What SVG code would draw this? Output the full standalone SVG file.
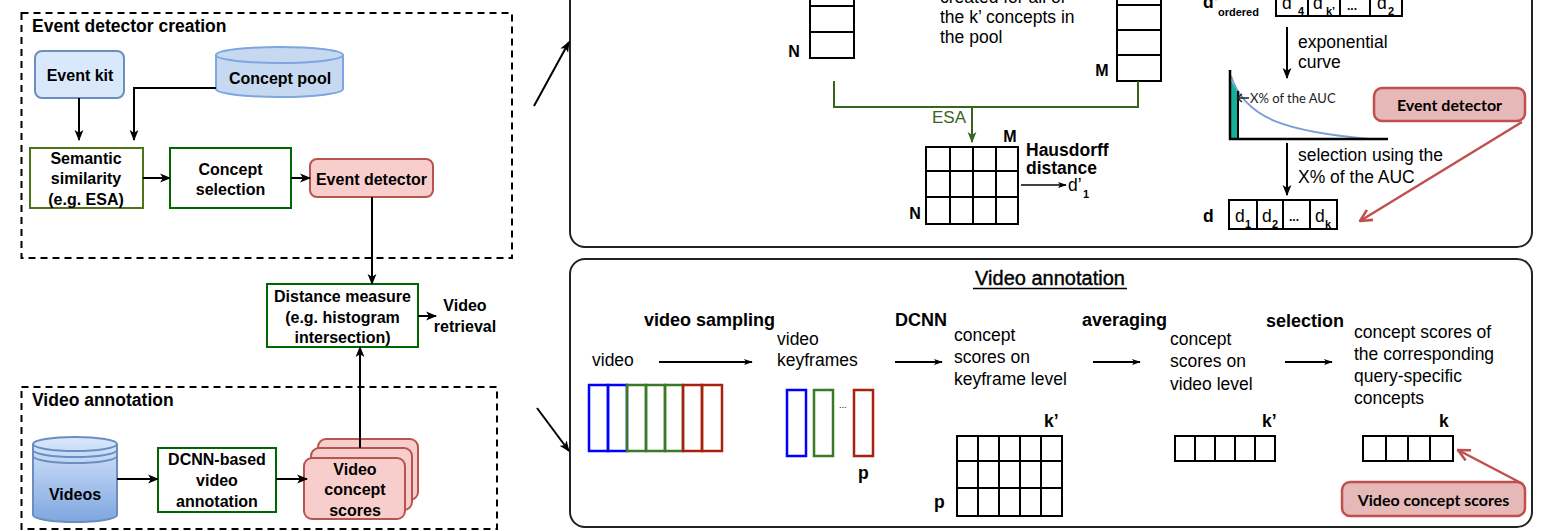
<svg xmlns="http://www.w3.org/2000/svg" width="1544" height="531" viewBox="0 0 1544 531">
<defs>
<style>
.b{font-family:"Liberation Sans",Arial,sans-serif;font-weight:bold;font-size:16px;fill:#000}
.t{font-family:"Liberation Sans",Arial,sans-serif;font-size:17.5px;fill:#000}
.tb{font-family:"Liberation Sans",Arial,sans-serif;font-weight:bold;font-size:17.5px;fill:#000}
.sub{font-family:"Liberation Sans",Arial,sans-serif;font-weight:bold;font-size:11px;fill:#000}
.c{text-anchor:middle}
.cal{font-family:Lato,"Open Sans",sans-serif;font-weight:bold;font-size:16px;fill:#000;text-anchor:middle}
.dash{fill:none;stroke:#000;stroke-width:2;stroke-dasharray:7 5}
.panel{fill:#fff;stroke:#222;stroke-width:2}
.grid{fill:#fff;stroke:#000;stroke-width:2}
.ln{fill:none;stroke:#000;stroke-width:2}
.ar{fill:none;stroke:#000;stroke-width:2;marker-end:url(#a)}
.ars{fill:none;stroke:#000;stroke-width:2;marker-end:url(#as)}
.red{fill:none;stroke:#c0504d;stroke-width:2.5;marker-end:url(#ao)}
.callout{fill:#e6b9b8;stroke:#c0504d;stroke-width:2.5}
</style>
<marker id="a" viewBox="0 0 10 10" refX="9" refY="5" markerWidth="11" markerHeight="11" markerUnits="userSpaceOnUse" orient="auto"><path d="M0,1 L10,5 L0,9 L2.5,5 Z" fill="#000"/></marker>
<marker id="as" viewBox="0 0 10 10" refX="9" refY="5" markerWidth="9" markerHeight="9" markerUnits="userSpaceOnUse" orient="auto"><path d="M0,1.5 L10,5 L0,8.5 L2.5,5 Z" fill="#000"/></marker>
<marker id="ag" viewBox="0 0 10 10" refX="9" refY="5" markerWidth="11" markerHeight="11" markerUnits="userSpaceOnUse" orient="auto"><path d="M0,1 L10,5 L0,9 L2.5,5 Z" fill="#38641d"/></marker>
<marker id="ao" viewBox="0 0 12 12" refX="11" refY="6" markerWidth="14" markerHeight="14" markerUnits="userSpaceOnUse" orient="auto"><path d="M1,1 L11,6 L1,11" fill="none" stroke="#c0504d" stroke-width="2.2"/></marker>
<linearGradient id="vg" x1="0" y1="0" x2="0" y2="1"><stop offset="0" stop-color="#dae8fc"/><stop offset="1" stop-color="#7ea6e0"/></linearGradient>
</defs>
<rect width="1544" height="531" fill="#fff"/>

<!-- Left: event detector creation -->
<g id="event-detector-creation">
<rect class="dash" x="21.5" y="13" width="490.5" height="245"/>
<text class="b" x="32" y="32" style="font-size:17.5px">Event detector creation</text>
</g>
<g id="event-kit">
<rect x="35" y="51" width="89" height="47" rx="7" fill="#dae8fc" stroke="#6c8ebf" stroke-width="2"/>
<text class="b c" x="80" y="81">Event kit</text>
</g>
<g id="concept-pool">
<path d="M216,55 A63.5,8 0 0 1 343,55 L343,89 A63.5,8 0 0 1 216,89 Z" fill="#c6d9f0" stroke="#7ea6e0" stroke-width="2"/>
<path d="M216,55 A63.5,8 0 0 0 343,55" fill="none" stroke="#7ea6e0" stroke-width="2"/>
<text class="b c" x="280" y="84">Concept pool</text>
</g>
<g id="semantic-similarity">
<rect x="30" y="148" width="113" height="60" fill="#fff" stroke="#4d7317" stroke-width="2"/>
<text class="b c" x="86" y="164">Semantic</text>
<text class="b c" x="86" y="184">similarity</text>
<text class="b c" x="86" y="205">(e.g. ESA)</text>
</g>
<g id="concept-selection">
<rect x="170" y="148" width="121" height="60" fill="#fff" stroke="#006600" stroke-width="2"/>
<text class="b c" x="230.5" y="175">Concept</text>
<text class="b c" x="230.5" y="195">selection</text>
</g>
<g id="event-detector">
<rect x="310" y="159" width="123" height="38" rx="7" fill="#f8cecc" stroke="#b85450" stroke-width="2"/>
<text class="b c" x="371.5" y="185">Event detector</text>
</g>
<g id="distance-measure">
<rect x="267" y="284" width="151" height="63" fill="#fff" stroke="#006600" stroke-width="2"/>
<text class="b c" x="342.5" y="302">Distance measure</text>
<text class="b c" x="342.5" y="323">(e.g. histogram</text>
<text class="b c" x="342.5" y="343">intersection)</text>
</g>
<g id="video-retrieval">
<text class="b c" x="465" y="311">Video</text>
<text class="b c" x="465" y="332">retrieval</text>
</g>

<!-- Left: video annotation -->
<g id="video-annotation-left">
<rect class="dash" x="21.5" y="387" width="475.5" height="142"/>
<text class="b" x="32" y="406" style="font-size:17.5px">Video annotation</text>
</g>
<g id="videos">
<path d="M33,444 A42,7 0 0 1 117,444 L117,515 A42,7 0 0 1 33,515 Z" fill="url(#vg)" stroke="#6c8ebf" stroke-width="2"/>
<path d="M33,444 A42,7 0 0 0 117,444 M33,450 A42,7 0 0 0 117,450 M33,456 A42,7 0 0 0 117,456" fill="none" stroke="#6c8ebf" stroke-width="2"/>
<text class="b c" x="75" y="500">Videos</text>
</g>
<g id="dcnn-annotation">
<rect x="158" y="448" width="118" height="64" fill="#fff" stroke="#006600" stroke-width="2"/>
<text class="b c" x="217" y="465">DCNN-based</text>
<text class="b c" x="217" y="486">video</text>
<text class="b c" x="217" y="507">annotation</text>
</g>
<g id="video-concept-scores">
<rect x="318" y="439" width="100" height="61" rx="8" fill="#f8cecc" stroke="#b85450" stroke-width="2"/>
<rect x="311" y="448" width="101" height="62" rx="8" fill="#f8cecc" stroke="#b85450" stroke-width="2"/>
<rect x="304" y="458" width="101" height="61" rx="8" fill="#f8cecc" stroke="#b85450" stroke-width="2"/>
<text class="b c" x="355" y="475">Video</text>
<text class="b c" x="355" y="495">concept</text>
<text class="b c" x="355" y="516">scores</text>
</g>

<!-- Right top panel -->
<g id="top-panel">
<rect class="panel" x="570" y="-30" width="962" height="277" rx="15"/>
</g>
<g id="n-vector">
<rect class="grid" x="810" y="-20" width="44" height="78"/>
<path class="ln" d="M810,6 H854 M810,32 H854"/>
<text class="tb c" x="794" y="57" style="font-size:16px">N</text>
</g>
<g id="pool-text">
<text class="t" x="940" y="3">created for all of</text>
<text class="t" x="940" y="23">the k’ concepts in</text>
<text class="t" x="940" y="43">the pool</text>
</g>
<g id="m-vector">
<rect class="grid" x="1117" y="-20" width="44" height="101"/>
<path class="ln" d="M1117,5 H1161 M1117,30 H1161 M1117,55 H1161"/>
<text class="tb c" x="1102" y="76" style="font-size:16px">M</text>
</g>
<g id="hausdorff-matrix">
<rect class="grid" x="926" y="147" width="92" height="77"/>
<path class="ln" d="M950,147 V224 M973,147 V224 M996,147 V224 M926,171 H1018 M926,197 H1018"/>
<text class="tb c" x="1010" y="142" style="font-size:16px">M</text>
<text class="tb c" x="915" y="219" style="font-size:16px">N</text>
<text class="tb" x="1026" y="156">Hausdorff</text>
<text class="tb" x="1026" y="174">distance</text>
<text class="t" x="1068" y="191">d’</text>
<text class="sub" x="1083" y="198">1</text>
</g>
<g id="d-ordered">
<text class="tb" x="1203" y="8">d’</text>
<text class="sub" x="1218" y="16">ordered</text>
<rect class="grid" x="1276" y="-13" width="126" height="29"/>
<path class="ln" d="M1308,-13 V16 M1340,-13 V16 M1370,-13 V16"/>
<text class="t" x="1282" y="9">d</text><text class="sub" x="1298" y="15">4</text>
<text class="t" x="1313" y="9">d</text><text class="sub" x="1326" y="15">k’</text>
<text class="tb" x="1347" y="10" style="font-size:12px">...</text>
<text class="t" x="1377" y="9">d</text><text class="sub" x="1388" y="15">2</text>
</g>
<g id="exponential-label">
<text class="t" x="1298" y="48">exponential</text>
<text class="t" x="1298" y="68">curve</text>
</g>
<g id="auc-chart">
<path d="M1230,139 L1230,78 L1233,84 L1236,88 L1238,91 L1238,139 Z" fill="#14b09a"/>
<path d="M1231,76 C1245,120 1290,132 1370,139" fill="none" stroke="#7b9fd4" stroke-width="2"/>
<path class="ln" d="M1238,91 V139"/>
<path d="M1230,70 V139 H1388" fill="none" stroke="#000" stroke-width="2.5"/>
<path d="M1249,98 H1238 M1242,94 L1237.5,98 L1242,102" fill="none" stroke="#222" stroke-width="1.5"/>
<text x="1250" y="103" style="font-family:Lato,'Open Sans',sans-serif;font-size:13px;fill:#222">X% of the AUC</text>
</g>
<g id="selection-label">
<text class="t" x="1298" y="161">selection using the</text>
<text class="t" x="1298" y="183">X% of the AUC</text>
</g>
<g id="d-vector">
<text class="tb" x="1203" y="222">d</text>
<rect class="grid" x="1229" y="200" width="108" height="29"/>
<path class="ln" d="M1257,200 V229 M1283,200 V229 M1310,200 V229"/>
<text class="t" x="1235" y="222">d</text><text class="sub" x="1245" y="228">1</text>
<text class="t" x="1262" y="222">d</text><text class="sub" x="1272" y="228">2</text>
<text class="tb" x="1289" y="221" style="font-size:12px">...</text>
<text class="t" x="1315" y="222">d</text><text class="sub" x="1325" y="228">k</text>
</g>
<g id="event-detector-callout">
<rect class="callout" x="1374" y="88" width="151" height="33" rx="8"/>
<text class="cal" x="1449.5" y="111">Event detector</text>
</g>

<!-- Right bottom panel -->
<g id="bottom-panel">
<rect class="panel" x="570" y="259" width="962" height="268" rx="15"/>
<text class="t c" x="1050" y="285" style="font-size:20px;stroke:#000;stroke-width:0.4">Video annotation</text>
<path d="M973,288.5 H1127" stroke="#000" stroke-width="1.5"/>
</g>
<g id="video-frames">
<text class="tb" x="644" y="326" style="font-size:18px">video sampling</text>
<text class="t" x="592" y="366">video</text>
<rect x="589" y="385" width="19" height="66" fill="none" stroke="#0000ff" stroke-width="2.5"/>
<rect x="608" y="385" width="19" height="66" fill="none" stroke="#0000ff" stroke-width="2.5"/>
<rect x="627" y="385" width="19" height="66" fill="none" stroke="#3a7a26" stroke-width="2.5"/>
<rect x="646" y="385" width="19" height="66" fill="none" stroke="#3a7a26" stroke-width="2.5"/>
<rect x="665" y="385" width="18" height="66" fill="none" stroke="#3a7a26" stroke-width="2.5"/>
<rect x="683" y="385" width="19" height="66" fill="none" stroke="#a8200e" stroke-width="2.5"/>
<rect x="702" y="385" width="20" height="66" fill="none" stroke="#a8200e" stroke-width="2.5"/>
</g>
<g id="keyframes">
<text class="t" x="777" y="345">video</text>
<text class="t" x="777" y="366">keyframes</text>
<rect x="787" y="390" width="19" height="66" fill="none" stroke="#0000ff" stroke-width="2.5"/>
<rect x="814" y="390" width="19" height="66" fill="none" stroke="#3a7a26" stroke-width="2.5"/>
<text class="t" x="839" y="408" style="font-size:9px">...</text>
<rect x="854" y="390" width="19" height="66" fill="none" stroke="#a8200e" stroke-width="2.5"/>
<text class="tb" x="858" y="479">p</text>
</g>
<g id="keyframe-scores">
<text class="tb" x="895" y="326" style="font-size:18px">DCNN</text>
<text class="t" x="954" y="341">concept</text>
<text class="t" x="954" y="363">scores on</text>
<text class="t" x="954" y="385">keyframe level</text>
<text class="tb" x="1044" y="427">k’</text>
<rect class="grid" x="957" y="436" width="105" height="80"/>
<path class="ln" d="M978,436 V516 M999,436 V516 M1020,436 V516 M1041,436 V516 M957,461 H1062 M957,488 H1062"/>
<text class="tb" x="934" y="508">p</text>
</g>
<g id="video-level-scores">
<text class="tb" x="1082" y="326" style="font-size:18px">averaging</text>
<text class="t" x="1170" y="345">concept</text>
<text class="t" x="1170" y="367">scores on</text>
<text class="t" x="1170" y="390">video level</text>
<text class="tb" x="1262" y="427">k’</text>
<rect class="grid" x="1175" y="436" width="100" height="25"/>
<path class="ln" d="M1195,436 V461 M1215,436 V461 M1235,436 V461 M1255,436 V461"/>
</g>
<g id="query-specific-scores">
<text class="tb" x="1266" y="327" style="font-size:18px">selection</text>
<text class="t" x="1354" y="338">concept scores of</text>
<text class="t" x="1354" y="360">the corresponding</text>
<text class="t" x="1354" y="382">query-specific</text>
<text class="t" x="1354" y="404">concepts</text>
<text class="tb" x="1439" y="427">k</text>
<rect class="grid" x="1363" y="436" width="90" height="25"/>
<path class="ln" d="M1386,436 V461 M1408,436 V461 M1430,436 V461"/>
</g>
<g id="video-concept-scores-callout">
<rect class="callout" x="1342" y="482" width="183" height="34" rx="8"/>
<text class="cal" x="1433.5" y="506">Video concept scores</text>
</g>

<!-- Connectors -->
<g id="connectors">
<path class="ar" d="M79,98 V140"/>
<path class="ar" d="M216,88 H134 V140"/>
<path class="ar" d="M143,178 H170"/>
<path class="ar" d="M291,178 H310"/>
<path class="ar" d="M372,197 V284"/>
<path class="ar" d="M418,316 H436"/>
<path class="ar" d="M117,479 H158"/>
<path class="ar" d="M276,479 H307"/>
<path class="ar" d="M360,448 V347"/>
<path class="ar" d="M534,106 L569,42"/>
<path class="ar" d="M537,408 L569,451"/>
<path d="M834,81 V107 H1138 V81" fill="none" stroke="#38641d" stroke-width="2"/>
<path d="M972,107 V142" fill="none" stroke="#38641d" stroke-width="2" marker-end="url(#ag)"/>
<text x="966" y="123" text-anchor="end" style="font-family:'Liberation Sans',Arial,sans-serif;font-size:17px;fill:#38641d">ESA</text>
<path class="ars" d="M1021,185 H1066" style="stroke-width:1.5"/>
<path class="ar" d="M1287,27 V78"/>
<path class="ar" d="M1287,143 V195"/>
<path class="ars" d="M659,362 H752"/>
<path class="ars" d="M895,362 H942"/>
<path class="ars" d="M1093,362 H1140"/>
<path class="ars" d="M1285,362 H1332"/>
<path class="red" d="M1522,122 L1360,221"/>
<path class="red" d="M1523,484 L1458,450"/>
</g>
</svg>
